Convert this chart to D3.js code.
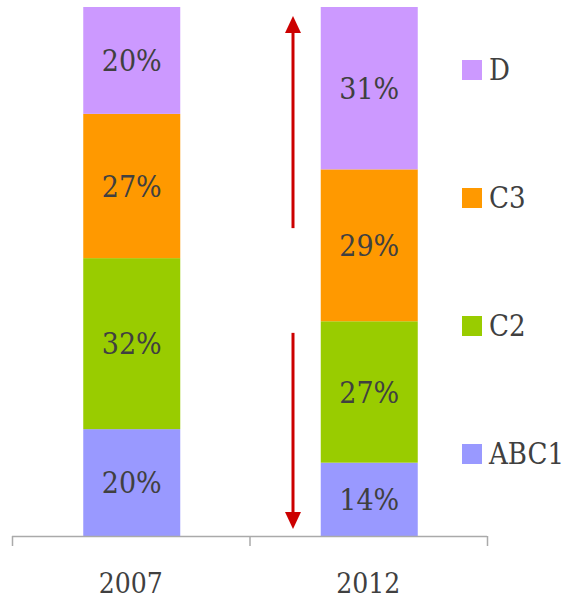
<!DOCTYPE html>
<html>
<head>
<meta charset="utf-8">
<script src="https://cdn.jsdelivr.net/npm/d3@7"></script>
<style>
  html, body { margin: 0; padding: 0; background: #fff; }
  svg text { font-family: "DejaVu Serif Condensed", "DejaVu Serif", serif; font-stretch: condensed; fill: #404040; }
</style>
</head>
<body>
<svg id="chart" width="569" height="601"></svg>
<script>
// Social grade shares by year
const years = ["2007", "2012"];
const segments = ["ABC1", "C2", "C3", "D"];
const abc1 = [20, 14];
const c2 = [32, 27];
const c3 = [27, 29];
const d = [20, 31];
const colors = ["#9999ff", "#99cc00", "#ff9900", "#cc99ff"];

// Shift arrows between the bars (shares of full bar height)
const arrowUp = [0.582, 0.983];
const arrowDown = [0.384, 0.013];

const seriesValues = [abc1, c2, c3, d];
const rows = years.map((y, i) => {
  const r = { year: y };
  segments.forEach((s, k) => { r[s] = seriesValues[k][i]; });
  return r;
});

const svg = d3.select("#chart");
const x = d3.scaleBand().domain(years).range([12, 487]).paddingInner(0).paddingOuter(0);
const y = d3.scaleLinear().domain([0, 1]).range([536, 7]);
const barW = 97;

// Stack normalised to 100% per year
const stacked = d3.stack().keys(segments).offset(d3.stackOffsetExpand)(rows);

const groups = svg.selectAll("g.layer").data(stacked).join("g")
  .attr("class", "layer")
  .attr("fill", (dd, i) => colors[i]);

groups.selectAll("rect").data(dd => dd).join("rect")
  .attr("x", dd => x(dd.data.year) + x.bandwidth() / 2 - barW / 2 + 1)
  .attr("width", barW)
  .attr("y", dd => y(dd[1]))
  .attr("height", dd => y(dd[0]) - y(dd[1]));

groups.selectAll("text").data((dd) => dd.map(v => ({ v, key: dd.key }))).join("text")
  .attr("x", o => x(o.v.data.year) + x.bandwidth() / 2 + 1)
  .attr("y", o => (y(o.v[0]) + y(o.v[1])) / 2)
  .attr("dy", "0.36em")
  .attr("text-anchor", "middle")
  .style("font-size", "30px")
  .text(o => o.v.data[o.key] + "%");

// Category axis
const axis = svg.append("g").attr("transform", "translate(0,536)");
axis.append("line").attr("x1", 12).attr("x2", 487).attr("y1", 0.5).attr("y2", 0.5)
  .attr("stroke", "#aaaaaa").attr("stroke-width", 1.5);
const tickPos = years.map(v => x(v)).concat([x.range()[1]]);
axis.selectAll("line.tick").data(tickPos).join("line").attr("class", "tick")
  .attr("x1", v => v + 0.5).attr("x2", v => v + 0.5).attr("y1", 0).attr("y2", 10)
  .attr("stroke", "#aaaaaa").attr("stroke-width", 1.5);
axis.selectAll("text").data(years).join("text")
  .attr("x", v => x(v) + x.bandwidth() / 2)
  .attr("y", 57)
  .attr("text-anchor", "middle")
  .style("font-size", "28px")
  .text(v => v);

// Arrows
const ax = 293;
function arrow(fromV, toV) {
  const y0 = y(fromV), y1 = y(toV);
  const dir = y1 < y0 ? -1 : 1;
  const headLen = 17, headHalf = 8;
  svg.append("line").attr("x1", ax).attr("x2", ax).attr("y1", y0).attr("y2", y1 - dir * headLen)
    .attr("stroke", "#cc0000").attr("stroke-width", 3);
  svg.append("path")
    .attr("d", `M${ax},${y1} L${ax - headHalf},${y1 - dir * headLen} L${ax + headHalf},${y1 - dir * headLen} Z`)
    .attr("fill", "#cc0000");
}
arrow(arrowUp[0], arrowUp[1]);
arrow(arrowDown[0], arrowDown[1]);

// Legend, top to bottom: D, C3, C2, ABC1
const legendY = d3.scalePoint().domain(segments.slice().reverse()).range([70, 454]);
const legend = svg.selectAll("g.legend").data(segments.slice().reverse()).join("g")
  .attr("class", "legend")
  .attr("transform", s => `translate(462,${legendY(s)})`);
legend.append("rect").attr("x", 0).attr("y", -10).attr("width", 20).attr("height", 20)
  .attr("fill", s => colors[segments.indexOf(s)]);
legend.append("text").attr("x", 27).attr("dy", "0.36em")
  .style("font-size", "29px").text(s => s);
</script>
</body>
</html>
